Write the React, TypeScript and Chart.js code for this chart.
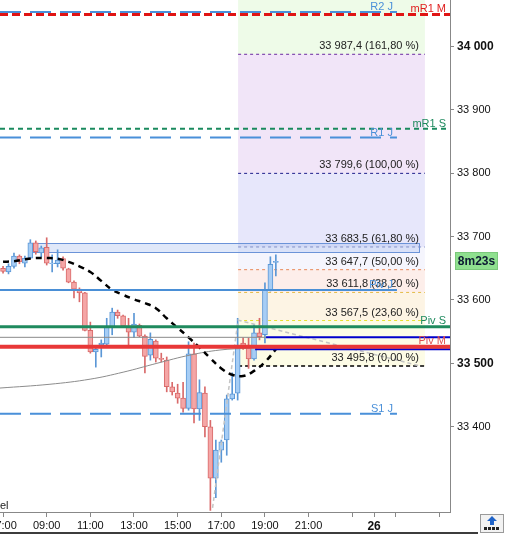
import React, { useEffect, useRef } from "react";
import { Chart, registerables } from "chart.js";

Chart.register(...registerables);

const FONT = "'Liberation Sans', Arial, sans-serif";

// ---------------- data ----------------
const START_HOUR = 7; // first 15-min candle at 07:00
const CANDLE_MINUTES = 15;

const opens = [
  33650, 33644, 33653, 33669, 33658, 33666, 33690, 33674, 33683, 33657,
  33657, 33665, 33649, 33628, 33617, 33611, 33552, 33518, 33529, 33530,
  33557, 33581, 33575, 33559, 33549, 33560, 33543, 33513, 33535, 33508,
  33505, 33463, 33453, 33445, 33429, 33515, 33428, 33453, 33400, 33319,
  33363, 33379, 33444, 33453, 33532, 33526, 33507, 33548, 33545, 33616,
  33659,
];
const highs = [
  33653, 33657, 33674, 33671, 33669, 33695, 33693, 33685, 33698, 33671,
  33679, 33668, 33650, 33630, 33619, 33612, 33565, 33524, 33537, 33571,
  33587, 33584, 33576, 33571, 33579, 33562, 33545, 33548, 33537, 33516,
  33510, 33470, 33467, 33470, 33534, 33532, 33474, 33463, 33410, 33379,
  33379, 33450, 33485, 33571, 33540, 33540, 33561, 33571, 33627, 33668,
  33671,
];
const lows = [
  33642, 33641, 33650, 33657, 33652, 33665, 33672, 33668, 33655, 33644,
  33652, 33647, 33627, 33603, 33597, 33551, 33516, 33494, 33510, 33529,
  33545, 33571, 33557, 33527, 33541, 33542, 33485, 33505, 33502, 33502,
  33455, 33450, 33437, 33423, 33426, 33406, 33410, 33384, 33268, 33288,
  33344, 33355, 33442, 33442, 33522, 33492, 33505, 33537, 33532, 33614,
  33638,
];
const closes = [
  33645, 33653, 33669, 33660, 33666, 33690, 33676, 33682, 33658, 33658,
  33663, 33650, 33628, 33617, 33611, 33552, 33518, 33522, 33532, 33557,
  33581, 33575, 33559, 33549, 33562, 33543, 33511, 33538, 33508, 33506,
  33463, 33455, 33445, 33429, 33515, 33428, 33454, 33400, 33319, 33363,
  33376, 33444, 33452, 33526, 33526, 33507, 33548, 33542, 33616, 33656,
  33661,
];

// dashed moving average (hours, price)
const maHours = [
  7, 7.5, 8, 8.5, 9, 9.5, 10, 10.5, 11, 11.5, 12, 12.5, 13, 13.5, 14, 14.5,
  15, 15.5, 16, 16.5, 17, 17.5, 18, 18.5, 19, 19.5,
];
const maValues = [
  33660, 33661, 33664, 33666, 33666, 33665, 33660, 33653, 33644, 33630,
  33616, 33608, 33601, 33595, 33587, 33571, 33556, 33541, 33525, 33508,
  33492, 33482, 33480, 33488, 33502, 33522,
];

// thin grey curve
const grayHours = [6.86, 9.15, 10.99, 12.5, 14.05, 15.57, 16.94, 18.31];
const grayValues = [33461, 33467, 33475, 33486, 33500, 33513, 33521, 33524];

// light grey dashed trend line
const trendHours = [16.6, 17.77, 26.1];
const trendValues = [33272, 33568, 33496];

// pivot levels
const levelNames = ["R2 J", "mR1 M", "mR1 S", "R1 J", "Piv J", "Piv S", "Piv M", "S1 J"];
const levelValues = [34054, 34050, 33870, 33856, 33615.6, 33557.7, 33526, 33420.5];
const levelEndHours = [25.05, null, null, 25.05, 25.05, null, null, 25.05];

// other horizontal segments
const segValues = [33541, 33541, 33522];
const segStartHours = [null, 19.05, 18.55];
const segEndHours = [19.05, null, null];

// fibonacci
const fibPercents = [161.8, 100, 61.8, 50, 38.2, 23.6, 0];
const fibValues = [33987.4, 33799.6, 33683.5, 33647.7, 33611.8, 33567.5, 33495.8];
const FIB_START = 17.77;
const FIB_END = 26.33;

// rectangle zone
const rectValues = [33689.7, 33675.6];
const rectHours = [8.39, 26.06];

// axes
const X_MIN = 6.86;
const X_MAX = 27.48;
const Y_MIN = 33265.5;
const Y_MAX = 34073;
const yTicks = [33400, 33500, 33600, 33700, 33800, 33900, 34000];
const yBoldTicks = [33500, 34000];
const xTickHours = [7, 9, 11, 13, 15, 17, 19, 21, 23, 24, 25, 27];
const xTickLabels = ["07:00", "09:00", "11:00", "13:00", "15:00", "17:00", "19:00", "21:00", "", "26", "", ""];
const xBoldLabels = ["26"];
const COUNTDOWN = "8m23s";
const CORNER_TEXT = "el";

// ---------------- styles ----------------
const UP_FILL = "#a6cdf5";
const UP_LINE = "#5b97d6";
const DN_FILL = "#f5a6a6";
const DN_LINE = "#d96a6a";
const levelStyles = [
  { color: "#4a90d9", text: "#4a90d9", width: 2, dash: [21, 9] },
  { color: "#e01414", text: "#e02020", width: 3, dash: [8, 4] },
  { color: "#1a8a5e", text: "#1f8a5e", width: 2, dash: [5, 4] },
  { color: "#4a90d9", text: "#4a90d9", width: 2, dash: [21, 9] },
  { color: "#4a8fd6", text: "#4a90d9", width: 2, dash: [] },
  { color: "#1f8a5e", text: "#1f8a5e", width: 3, dash: [] },
  { color: "#e83838", text: "#e05050", width: 4, dash: [] },
  { color: "#4a90d9", text: "#4a90d9", width: 2, dash: [21, 9] },
];
const segStyles = [
  { color: "#8a8a8a", width: 1 },
  { color: "#0000cc", width: 2 },
  { color: "#0000cc", width: 2 },
];
const fibLineColors = ["#6a2aa0", "#1e1e8c", "#8090c8", "#e8895a", "#e4bc48", "#e8e030", "#000000"];
const fibBandColors = ["#eefbe8", "#f1e5f8", "#e7e7fb", "#f5f5fd", "#fdeeea", "#fdf4e4", "#fdfce6"];

function thousands(s: string) {
  return s.replace(/\B(?=(\d{3})+(?!\d))/g, " ");
}
function fmtPrice(v: number) {
  const [i, d] = v.toFixed(1).split(".");
  return thousands(i) + "," + d;
}
function fmtPct(p: number) {
  return p.toFixed(2).replace(".", ",");
}

export default function App() {
  const ref = useRef<HTMLCanvasElement>(null);

  useEffect(() => {
    const canvas = ref.current;
    if (!canvas) return;

    const candleHours = opens.map((_, i) => START_HOUR + (i * CANDLE_MINUTES) / 60);
    const up = opens.map((o, i) => closes[i] >= o);

    const datasets: any[] = [];

    // horizontal pivot levels
    levelValues.forEach((v, i) => {
      const st = levelStyles[i];
      const end = levelEndHours[i] ?? X_MAX;
      datasets.push({
        type: "line",
        data: [{ x: X_MIN, y: v }, { x: end, y: v }],
        borderColor: st.color,
        borderWidth: st.width,
        borderDash: st.dash,
        pointRadius: 0,
        fill: false,
        order: 0,
      });
    });
    segValues.forEach((v, i) => {
      const st = segStyles[i];
      datasets.push({
        type: "line",
        data: [{ x: segStartHours[i] ?? X_MIN, y: v }, { x: segEndHours[i] ?? X_MAX, y: v }],
        borderColor: st.color,
        borderWidth: st.width,
        pointRadius: 0,
        fill: false,
        order: 0,
      });
    });
    // MA dashed
    datasets.push({
      type: "line",
      data: maHours.map((h, i) => ({ x: h, y: maValues[i] })),
      borderColor: "#000000",
      borderWidth: 2.5,
      borderDash: [6, 5],
      pointRadius: 0,
      tension: 0.4,
      fill: false,
      order: 0,
    });
    // grey curve
    datasets.push({
      type: "line",
      data: grayHours.map((h, i) => ({ x: h, y: grayValues[i] })),
      borderColor: "#8c8c8c",
      borderWidth: 1,
      pointRadius: 0,
      tension: 0.4,
      fill: false,
      order: 1,
    });
    // trend dashed
    datasets.push({
      type: "line",
      data: trendHours.map((h, i) => ({ x: h, y: trendValues[i] })),
      borderColor: "#c4c4c4",
      borderWidth: 1.5,
      borderDash: [4, 3],
      pointRadius: 0,
      fill: false,
      order: 1,
    });
    // fib lines
    fibValues.forEach((v, i) => {
      datasets.push({
        type: "line",
        data: [{ x: FIB_START, y: v }, { x: FIB_END, y: v }],
        borderColor: fibLineColors[i],
        borderWidth: i === fibValues.length - 1 ? 1.5 : 1,
        borderDash: i === fibValues.length - 1 ? [4, 3] : [3, 3],
        pointRadius: 0,
        fill: false,
        order: 5,
      });
    });
    // candle bodies
    datasets.push({
      type: "bar",
      data: candleHours.map((h, i) => ({ x: h, y: [opens[i], closes[i]] })),
      backgroundColor: up.map((u) => (u ? UP_FILL : DN_FILL)),
      borderColor: up.map((u) => (u ? UP_LINE : DN_LINE)),
      borderWidth: 1,
      borderSkipped: false,
      barThickness: 5,
      grouped: false,
      order: 2,
    });
    // wicks
    datasets.push({
      type: "bar",
      data: candleHours.map((h, i) => ({ x: h, y: [lows[i], highs[i]] })),
      backgroundColor: up.map((u) => (u ? UP_LINE : DN_LINE)),
      borderWidth: 0,
      barThickness: 1,
      grouped: false,
      order: 3,
    });

    const overlay = {
      id: "overlay",
      beforeDatasetsDraw(chart: any) {
        const { ctx, chartArea, scales } = chart;
        const x = scales.x, y = scales.y;
        ctx.save();
        ctx.beginPath();
        ctx.rect(chartArea.left, chartArea.top, chartArea.right - chartArea.left, chartArea.bottom - chartArea.top);
        ctx.clip();
        const x0 = x.getPixelForValue(FIB_START);
        const x1 = x.getPixelForValue(FIB_END);
        let prev = Y_MAX;
        fibValues.forEach((v, i) => {
          const ya = y.getPixelForValue(prev);
          const yb = y.getPixelForValue(v);
          ctx.fillStyle = fibBandColors[i];
          ctx.fillRect(x0, ya, x1 - x0, yb - ya);
          prev = v;
        });
        // rectangle zone
        const rx0 = x.getPixelForValue(rectHours[0]);
        const rx1 = x.getPixelForValue(rectHours[1]);
        const ry0 = y.getPixelForValue(rectValues[0]);
        const ry1 = y.getPixelForValue(rectValues[1]);
        ctx.fillStyle = "rgba(165,190,238,0.35)";
        ctx.fillRect(rx0, ry0, rx1 - rx0, ry1 - ry0);
        ctx.strokeStyle = "#6b93d8";
        ctx.lineWidth = 1;
        ctx.strokeRect(Math.round(rx0) + 0.5, Math.round(ry0) + 0.5, Math.round(rx1 - rx0), Math.round(ry1 - ry0));
        ctx.restore();
      },
      afterDatasetsDraw(chart: any) {
        const { ctx, scales } = chart;
        const x = scales.x, y = scales.y;
        ctx.save();
        ctx.font = `11px ${FONT}`;
        ctx.textBaseline = "alphabetic";
        // fib labels
        ctx.textAlign = "right";
        ctx.fillStyle = "#222";
        const fx = x.getPixelForValue(FIB_END) - 6;
        fibValues.forEach((v, i) => {
          ctx.fillText(`${fmtPrice(v)} (${fmtPct(fibPercents[i])} %)`, fx, y.getPixelForValue(v) - 5);
        });
        // level labels
        levelValues.forEach((v, i) => {
          const st = levelStyles[i];
          const end = levelEndHours[i] ?? X_MAX;
          const ex = x.getPixelForValue(end) - 4;
          ctx.fillStyle = st.text;
          ctx.fillText(levelNames[i], ex, y.getPixelForValue(v) - st.width / 2 - 1);
        });
        // corner text
        ctx.textAlign = "left";
        ctx.fillStyle = "#222";
        ctx.fillText(CORNER_TEXT, 0, 509);
        ctx.restore();
      },
      afterDraw(chart: any) {
        const { ctx, scales, chartArea } = chart;
        const y = scales.y;
        ctx.save();
        // countdown box at last close
        const yc = Math.round(y.getPixelForValue(closes[closes.length - 1]));
        const bx = chartArea.right + 5;
        ctx.fillStyle = "#8fe08f";
        ctx.fillRect(bx, yc - 9, 43, 18);
        ctx.strokeStyle = "#7bc87b";
        ctx.lineWidth = 1;
        ctx.strokeRect(bx + 0.5, yc - 8.5, 42, 17);
        ctx.fillStyle = "#0d1a33";
        ctx.font = `bold 12px ${FONT}`;
        ctx.textAlign = "center";
        ctx.textBaseline = "middle";
        ctx.fillText(COUNTDOWN, bx + 21.5, yc + 1);
        // bottom strip
        ctx.fillStyle = "#3c3c3c";
        ctx.fillRect(0, 532, 478, 2);
        // corner button
        ctx.fillStyle = "#f2f2f2";
        ctx.fillRect(480, 514, 24, 19);
        ctx.strokeStyle = "#9a9a9a";
        ctx.strokeRect(480.5, 514.5, 23, 18);
        ctx.fillStyle = "#1f63c8";
        ctx.beginPath();
        ctx.moveTo(492, 516);
        ctx.lineTo(497, 521);
        ctx.lineTo(494, 521);
        ctx.lineTo(494, 525);
        ctx.lineTo(490, 525);
        ctx.lineTo(490, 521);
        ctx.lineTo(487, 521);
        ctx.closePath();
        ctx.fill();
        ctx.fillStyle = "#222";
        for (let k = 0; k < 4; k++) ctx.fillRect(484 + k * 4, 527, 3, 3);
        ctx.restore();
      },
    };

    const chart = new Chart(canvas, {
      type: "line",
      data: { datasets },
      plugins: [overlay],
      options: {
        responsive: false,
        devicePixelRatio: 1,
        animation: false,
        events: [],
        layout: { padding: 0 },
        plugins: { legend: { display: false }, tooltip: { enabled: false } },
        scales: {
          x: {
            type: "linear",
            position: "bottom",
            min: X_MIN,
            max: X_MAX,
            offset: false,
            afterBuildTicks: (s: any) => {
              s.ticks = xTickHours.map((v) => ({ value: v }));
            },
            afterFit: (s: any) => {
              s.height = 22;
              s.paddingLeft = 0;
              s.paddingRight = 0;
            },
            ticks: {
              autoSkip: false,
              maxRotation: 0,
              minRotation: 0,
              padding: 2,
              color: "#111",
              callback: (_v: any, i: number) => xTickLabels[i],
              font: (c: any) => {
                const lbl = xTickLabels[c.index];
                const bold = xBoldLabels.includes(lbl);
                return { family: FONT, size: bold ? 12 : 11, weight: bold ? "bold" : "normal" };
              },
            },
            grid: { drawOnChartArea: false, drawTicks: true, tickLength: 5, color: "#888", offset: false },
            border: { display: true, color: "#888" },
          },
          y: {
            type: "linear",
            position: "right",
            min: Y_MIN,
            max: Y_MAX,
            beginAtZero: false,
            afterBuildTicks: (s: any) => {
              s.ticks = yTicks.map((v) => ({ value: v }));
            },
            afterFit: (s: any) => {
              s.width = 55;
              s.paddingTop = 0;
              s.paddingBottom = 0;
            },
            ticks: {
              padding: 3,
              color: "#111",
              callback: (v: any) => thousands(String(Math.round(v))),
              font: (c: any) => {
                const bold = c.tick && yBoldTicks.includes(c.tick.value);
                return { family: FONT, size: bold ? 12 : 11, weight: bold ? "bold" : "normal" };
              },
            },
            grid: { drawOnChartArea: false, drawTicks: true, tickLength: 4, color: "#888" },
            border: { display: true, color: "#888" },
          },
        },
      },
    } as any);

    return () => chart.destroy();
  }, []);

  return (
    <div style={{ position: "fixed", left: 0, top: 0, width: 505, height: 534, background: "#fff" }}>
      <canvas ref={ref} width={505} height={534} style={{ display: "block" }} />
    </div>
  );
}
